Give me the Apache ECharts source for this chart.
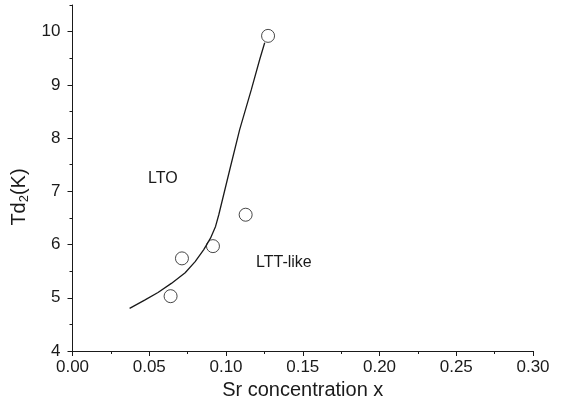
<!DOCTYPE html>
<html>
<head>
<meta charset="utf-8">
<script src="https://cdn.jsdelivr.net/npm/echarts@6/dist/echarts.min.js"></script>
<style>
html,body{margin:0;padding:0;background:#fff;}
#main{width:570px;height:411px;}
</style>
</head>
<body>
<div id="main"></div>
<script>
// 测量点 (Sr 浓度, Td2)
var xPoints = [0.0639, 0.0713, 0.0915, 0.1128, 0.1274];
var yPoints = [5.03, 5.74, 5.97, 6.56, 9.92];

// 拟合曲线
var xCurve = [0.0372, 0.0470, 0.0557, 0.0644, 0.0734, 0.0799, 0.0854, 0.0899, 0.0932, 0.0953, 0.1024, 0.1089, 0.1165, 0.1220, 0.1252];
var yCurve = [4.80, 4.955, 5.10, 5.27, 5.47, 5.68, 5.90, 6.12, 6.34, 6.56, 7.40, 8.16, 8.91, 9.48, 9.79];

// 刻度
var yMajor = [4, 5, 6, 7, 8, 9, 10];
var yMinor = [4.5, 5.5, 6.5, 7.5, 8.5, 9.5, 10.5];

function zip(a, b){
	var out = [];
	for(var i = 0; i < a.length; i++){
		out.push([a[i], b[i]]);
	}
	return out;
}

var font = 'Liberation Sans, Arial, sans-serif';
var ink = '#1a1a1a';

var myChart = echarts.init(document.getElementById('main'));

var option = {
	animation: false,
	backgroundColor: '#fff',
	textStyle: {fontFamily: font, color: ink},
	grid: {left: 72.5, right: 37, top: 5, bottom: 60},
	xAxis: {
		type: 'value',
		min: 0,
		max: 0.30,
		interval: 0.05,
		name: 'Sr concentration x',
		nameLocation: 'middle',
		nameGap: 26,
		nameTextStyle: {fontSize: 20, color: ink, fontFamily: font},
		axisLine: {lineStyle: {color: ink, width: 1}},
		axisTick: {show: true, inside: false, length: 5, lineStyle: {color: ink}},
		minorTick: {show: true, splitNumber: 2, length: 3, lineStyle: {color: ink}},
		splitLine: {show: false},
		axisLabel: {
			fontSize: 17, color: ink, fontFamily: font, margin: 8,
			formatter: function(v){ return v.toFixed(2); }
		}
	},
	yAxis: [{
		type: 'value',
		min: 4,
		max: 10.5,
		interval: 1,
		name: '{n|Td}{s|2}{n|(K)}',
		nameLocation: 'middle',
		nameGap: 33,
		nameTextStyle: {
			color: ink, fontFamily: font, padding: [0, 38, 0, 0],
			rich: {
				n: {fontSize: 20, color: ink, fontFamily: font},
				s: {fontSize: 13, color: ink, fontFamily: font, padding: [10, 0, 0, 0]}
			}
		},
		axisLine: {show: true, lineStyle: {color: ink, width: 1}},
		axisTick: {show: true, inside: false, length: 5, customValues: yMajor, lineStyle: {color: ink}},
		splitLine: {show: false},
		axisLabel: {fontSize: 17, color: ink, fontFamily: font, margin: 12, customValues: yMajor}
	}, {
		// 次刻度
		type: 'value',
		min: 4,
		max: 10.5,
		position: 'left',
		axisLine: {show: false},
		axisTick: {show: true, inside: false, length: 3, customValues: yMinor, lineStyle: {color: ink}},
		axisLabel: {show: false},
		splitLine: {show: false}
	}],
	graphic: [{
		type: 'text',
		left: 148, top: 171,
		style: {text: 'LTO', fontSize: 16, fill: ink, fontFamily: font}
	}, {
		type: 'text',
		left: 256, top: 255,
		style: {text: 'LTT-like', fontSize: 16, fill: ink, fontFamily: font}
	}],
	series: [{
		name: 'fit',
		type: 'line',
		data: zip(xCurve, yCurve),
		smooth: false,
		showSymbol: false,
		lineStyle: {color: ink, width: 1.3}
	}, {
		name: 'Td2',
		type: 'scatter',
		data: zip(xPoints, yPoints),
		symbol: 'circle',
		symbolSize: 13,
		itemStyle: {color: 'rgba(255,255,255,0)', borderColor: ink, borderWidth: 1}
	}]
};

myChart.setOption(option);
</script>
</body>
</html>
